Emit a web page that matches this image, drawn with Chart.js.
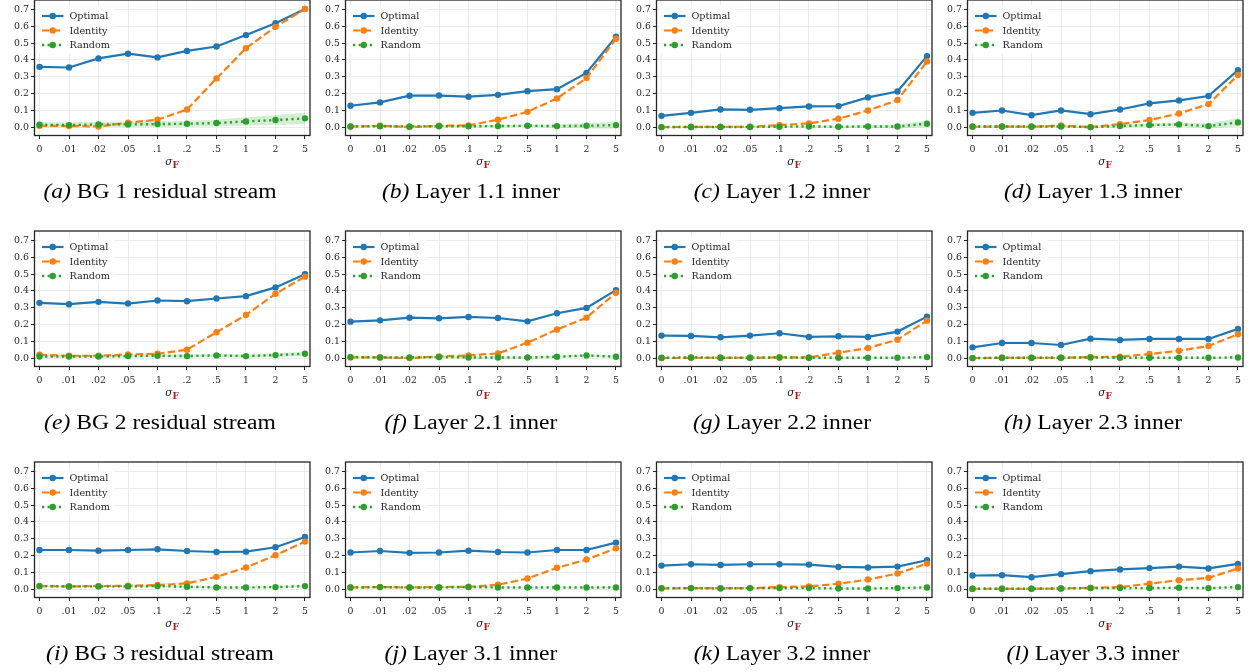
<!DOCTYPE html>
<html>
<head>
<meta charset="utf-8">
<script src="https://cdn.jsdelivr.net/npm/chart.js@4.4.1/dist/chart.umd.min.js"></script>
<style>
  html, body { margin: 0; padding: 0; background: #fff; }
  #grid { position: relative; width: 1250px; height: 672px; overflow: hidden; }
  .panel { position: absolute; width: 311px; height: 231px; }
  .panel canvas { position: absolute; left: 0; top: -3px; }
  .xlab { position: absolute; top: 157px; left: 172px; transform: translateX(-50%);
          font-family: "DejaVu Serif", serif; font-style: italic; font-size: 10.5px; line-height: 10px;
          color: #262626; white-space: nowrap; }
  .xlab sub { font-style: normal; font-weight: bold; color: #b01818; font-size: 9px; vertical-align: -3px; }
  .cap { position: absolute; top: 181px; left: 0; width: 320px; text-align: center;
         font-family: "Liberation Serif", "Times New Roman", serif; font-size: 20.5px; line-height: 22px;
         color: #000; white-space: nowrap; transform: scaleX(1.15); transform-origin: 160px 50%; }
</style>
</head>
<body>
<div id="grid"></div>
<script>
// x positions: noise scale sigma_F
const sigmaLabels = ['0', '.01', '.02', '.05', '.1', '.2', '.5', '1', '2', '5'];
const yTickValues = [0, 0.1, 0.2, 0.3, 0.4, 0.5, 0.6, 0.7];

const panelLetters = ['a', 'b', 'c', 'd', 'e', 'f', 'g', 'h', 'i', 'j', 'k', 'l'];
const panelTitles = [
  'BG 1 residual stream', 'Layer 1.1 inner', 'Layer 1.2 inner', 'Layer 1.3 inner',
  'BG 2 residual stream', 'Layer 2.1 inner', 'Layer 2.2 inner', 'Layer 2.3 inner',
  'BG 3 residual stream', 'Layer 3.1 inner', 'Layer 3.2 inner', 'Layer 3.3 inner'
];

// one row per panel, one value per sigma_F
const optimal = [
  [0.359, 0.355, 0.409, 0.437, 0.415, 0.454, 0.480, 0.548, 0.619, 0.704],
  [0.127, 0.147, 0.187, 0.188, 0.181, 0.192, 0.214, 0.226, 0.323, 0.538],
  [0.067, 0.085, 0.105, 0.103, 0.113, 0.123, 0.125, 0.177, 0.212, 0.423],
  [0.085, 0.099, 0.071, 0.099, 0.077, 0.105, 0.141, 0.159, 0.185, 0.339],
  [0.329, 0.321, 0.335, 0.325, 0.343, 0.339, 0.355, 0.369, 0.421, 0.499],
  [0.217, 0.225, 0.241, 0.237, 0.245, 0.239, 0.219, 0.267, 0.299, 0.405],
  [0.134, 0.132, 0.124, 0.134, 0.148, 0.126, 0.130, 0.126, 0.158, 0.247],
  [0.064, 0.090, 0.090, 0.078, 0.116, 0.108, 0.114, 0.114, 0.114, 0.174],
  [0.233, 0.233, 0.229, 0.233, 0.237, 0.227, 0.221, 0.223, 0.249, 0.310],
  [0.218, 0.227, 0.216, 0.218, 0.229, 0.221, 0.218, 0.233, 0.233, 0.277],
  [0.140, 0.148, 0.144, 0.148, 0.148, 0.146, 0.132, 0.129, 0.134, 0.172],
  [0.081, 0.083, 0.071, 0.089, 0.107, 0.117, 0.125, 0.134, 0.123, 0.150]
];

const identity = [
  [0.008, 0.006, 0.004, 0.026, 0.044, 0.105, 0.290, 0.470, 0.597, 0.704],
  [0.003, 0.008, 0.000, 0.008, 0.010, 0.044, 0.091, 0.171, 0.292, 0.526],
  [0.000, 0.001, 0.002, 0.002, 0.012, 0.022, 0.050, 0.099, 0.161, 0.391],
  [0.002, 0.003, 0.002, 0.010, 0.000, 0.018, 0.042, 0.081, 0.137, 0.310],
  [0.020, 0.014, 0.014, 0.022, 0.026, 0.050, 0.154, 0.257, 0.383, 0.485],
  [0.004, 0.004, 0.000, 0.010, 0.016, 0.028, 0.092, 0.170, 0.241, 0.389],
  [0.000, 0.002, 0.002, 0.002, 0.004, 0.004, 0.032, 0.060, 0.110, 0.223],
  [0.000, 0.002, 0.002, 0.002, 0.006, 0.008, 0.024, 0.044, 0.072, 0.142],
  [0.018, 0.016, 0.018, 0.020, 0.024, 0.034, 0.073, 0.129, 0.202, 0.283],
  [0.010, 0.012, 0.010, 0.012, 0.014, 0.026, 0.063, 0.127, 0.176, 0.243],
  [0.004, 0.006, 0.006, 0.006, 0.012, 0.016, 0.032, 0.057, 0.093, 0.152],
  [0.002, 0.002, 0.002, 0.004, 0.008, 0.012, 0.032, 0.053, 0.067, 0.123]
];

const random = [
  [0.014, 0.012, 0.016, 0.016, 0.018, 0.020, 0.024, 0.034, 0.042, 0.052],
  [0.004, 0.005, 0.004, 0.005, 0.005, 0.006, 0.008, 0.006, 0.008, 0.012],
  [0.000, 0.001, 0.001, 0.001, 0.002, 0.004, 0.002, 0.004, 0.004, 0.020],
  [0.004, 0.004, 0.004, 0.004, 0.000, 0.006, 0.012, 0.016, 0.006, 0.028],
  [0.010, 0.010, 0.010, 0.012, 0.014, 0.012, 0.016, 0.012, 0.018, 0.026],
  [0.006, 0.004, 0.004, 0.006, 0.004, 0.004, 0.004, 0.008, 0.016, 0.008],
  [0.002, 0.004, 0.002, 0.002, 0.004, 0.002, 0.002, 0.002, 0.002, 0.006],
  [0.000, 0.002, 0.002, 0.002, 0.004, 0.002, 0.002, 0.002, 0.002, 0.004],
  [0.018, 0.016, 0.016, 0.016, 0.018, 0.014, 0.010, 0.010, 0.012, 0.018],
  [0.010, 0.012, 0.010, 0.010, 0.012, 0.010, 0.010, 0.010, 0.010, 0.010],
  [0.006, 0.006, 0.004, 0.006, 0.006, 0.006, 0.004, 0.004, 0.006, 0.010],
  [0.002, 0.002, 0.002, 0.004, 0.006, 0.006, 0.006, 0.008, 0.006, 0.012]
];

// half-width of the shaded band around the random baseline
const randomSpread = [
  [0.015, 0.015, 0.016, 0.016, 0.017, 0.018, 0.020, 0.025, 0.030, 0.033],
  [0.005, 0.005, 0.005, 0.006, 0.006, 0.007, 0.008, 0.010, 0.015, 0.022],
  [0.004, 0.004, 0.004, 0.004, 0.005, 0.005, 0.006, 0.008, 0.012, 0.020],
  [0.006, 0.006, 0.006, 0.006, 0.006, 0.008, 0.010, 0.012, 0.015, 0.025],
  [0.008, 0.008, 0.008, 0.008, 0.009, 0.009, 0.010, 0.010, 0.011, 0.012],
  [0.005, 0.005, 0.005, 0.005, 0.005, 0.005, 0.006, 0.006, 0.007, 0.008],
  [0.003, 0.003, 0.003, 0.003, 0.003, 0.003, 0.003, 0.003, 0.003, 0.004],
  [0.003, 0.003, 0.003, 0.003, 0.003, 0.003, 0.003, 0.003, 0.003, 0.004],
  [0.005, 0.005, 0.005, 0.005, 0.005, 0.005, 0.005, 0.005, 0.005, 0.006],
  [0.004, 0.004, 0.004, 0.004, 0.004, 0.004, 0.004, 0.004, 0.004, 0.005],
  [0.003, 0.003, 0.003, 0.003, 0.003, 0.003, 0.003, 0.003, 0.003, 0.004],
  [0.003, 0.003, 0.003, 0.003, 0.003, 0.003, 0.003, 0.003, 0.003, 0.004]
];

const BLUE = '#1f77b4', ORANGE = '#ff7f0e', GREEN = '#2ca02c';
const INK = '#262626';
const TICK_FONT = { family: '"DejaVu Serif", serif', size: 9.4 };

const toPoints = arr => arr.map((v, i) => ({ x: i, y: v }));

// custom legend (line sample + marker) and a full frame around the plot area
const legendAndFrame = {
  id: 'legendAndFrame',
  afterDatasetsDraw(chart) {
    const { ctx, chartArea: a } = chart;
    ctx.save();
    ctx.fillStyle = 'rgba(255,255,255,0.8)';
    ctx.fillRect(a.left + 3.5, a.top + 5, 77, 49);
    chart.data.datasets.slice(0, 3).forEach((ds, i) => {
      const y = a.top + 16 + i * 14.5;
      const x0 = a.left + 7.5, x1 = a.left + 29;
      ctx.strokeStyle = ds.borderColor;
      ctx.lineWidth = ds.borderWidth;
      ctx.setLineDash(ds.borderDash || []);
      ctx.beginPath(); ctx.moveTo(x0, y); ctx.lineTo(x1, y); ctx.stroke();
      ctx.setLineDash([]);
      ctx.fillStyle = ds.borderColor;
      ctx.beginPath(); ctx.arc((x0 + x1) / 2, y, 3.2, 0, Math.PI * 2); ctx.fill();
      ctx.fillStyle = INK;
      ctx.font = '9.6px "DejaVu Serif", serif';
      ctx.textBaseline = 'middle';
      ctx.textAlign = 'left';
      ctx.fillText(ds.label, a.left + 35, y + 0.5);
    });
    ctx.strokeStyle = INK;
    ctx.lineWidth = 1.3;
    ctx.strokeRect(a.left, a.top, a.right - a.left, a.bottom - a.top);
    ctx.restore();
  }
};

const gridEl = document.getElementById('grid');

panelTitles.forEach((title, p) => {
  const col = p % 4, row = Math.floor(p / 4);
  const panel = document.createElement('div');
  panel.className = 'panel';
  panel.style.left = (311 * col) + 'px';
  panel.style.top = (-1 + 230.8 * row) + 'px';

  // canvas reaches a little past the panel box, so the plot frame lands at (34.5, 1)-(310, 136.5)
  const canvas = document.createElement('canvas');
  canvas.width = 314; canvas.height = 163;
  panel.appendChild(canvas);

  const xl = document.createElement('div');
  xl.className = 'xlab';
  xl.innerHTML = 'σ<sub>F</sub>';
  panel.appendChild(xl);

  const cap = document.createElement('div');
  cap.className = 'cap';
  cap.innerHTML = '<i>(' + panelLetters[p] + ')</i> ' + title;
  panel.appendChild(cap);

  gridEl.appendChild(panel);

  const lo = random[p].map((v, i) => v - randomSpread[p][i]);
  const hi = random[p].map((v, i) => v + randomSpread[p][i]);

  new Chart(canvas, {
    type: 'line',
    data: {
      datasets: [
        { label: 'Optimal', data: toPoints(optimal[p]), borderColor: BLUE, backgroundColor: BLUE,
          borderWidth: 2.2, pointRadius: 3.2, pointBorderWidth: 0, pointBackgroundColor: BLUE, order: 2 },
        { label: 'Identity', data: toPoints(identity[p]), borderColor: ORANGE, backgroundColor: ORANGE,
          borderWidth: 2.2, borderDash: [7.5, 3.2], pointRadius: 3.2, pointBorderWidth: 0, pointBackgroundColor: ORANGE, order: 1 },
        { label: 'Random', data: toPoints(random[p]), borderColor: GREEN, backgroundColor: GREEN,
          borderWidth: 2.4, borderDash: [2.2, 3.4], pointRadius: 3.2, pointBorderWidth: 0, pointBackgroundColor: GREEN, order: 0 },
        { label: 'Random low', data: toPoints(lo), borderWidth: 0, pointRadius: 0, fill: false, order: 4 },
        { label: 'Random high', data: toPoints(hi), borderWidth: 0, pointRadius: 0, fill: 3,
          backgroundColor: 'rgba(44,160,44,0.2)', order: 3 }
      ]
    },
    options: {
      responsive: false,
      animation: false,
      devicePixelRatio: 1,
      layout: { padding: { top: 1, right: 0.5, left: 0, bottom: 0 } },
      elements: { line: { tension: 0 } },
      plugins: { legend: { display: false }, tooltip: { enabled: false } },
      scales: {
        x: {
          type: 'linear', min: -0.17, max: 9.17,
          afterBuildTicks: s => { s.ticks = sigmaLabels.map((_, i) => ({ value: i })); },
          afterFit: s => { s.height = 23.5; s.paddingLeft = 0; s.paddingRight = 0; },
          ticks: { callback: v => sigmaLabels[v], font: TICK_FONT, color: INK, padding: 4.5,
                   maxRotation: 0, autoSkip: false },
          grid: { color: '#e6e6e6', lineWidth: 0.8, tickColor: INK, tickLength: 3.5, tickWidth: 1 },
          border: { display: false }
        },
        y: {
          type: 'linear', min: -0.05, max: 0.757,
          afterBuildTicks: s => { s.ticks = yTickValues.map(v => ({ value: v })); },
          afterFit: s => { s.width = 34.5; s.paddingTop = 0; s.paddingBottom = 0; },
          ticks: { callback: v => v.toFixed(1), font: TICK_FONT, color: INK, padding: 2 },
          grid: { color: '#e6e6e6', lineWidth: 0.8, tickColor: INK, tickLength: 3.5, tickWidth: 1 },
          border: { display: false }
        }
      }
    },
    plugins: [legendAndFrame]
  });
});
</script>
</body>
</html>
